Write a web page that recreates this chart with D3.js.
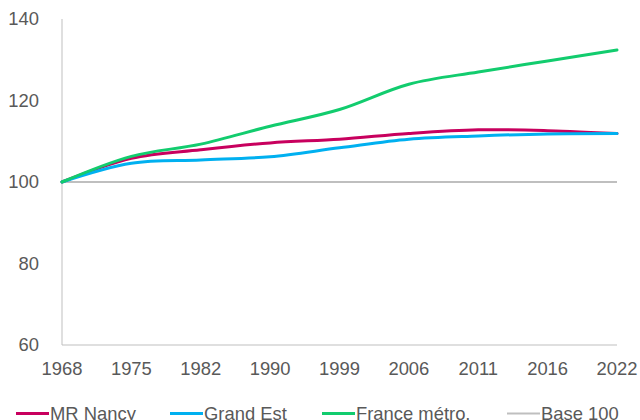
<!DOCTYPE html>
<html>
<head>
<meta charset="utf-8">
<script src="https://cdn.jsdelivr.net/npm/d3@7"></script>
<style>
  body { margin: 0; background: #fff; }
  svg { display: block; font-family: "Liberation Sans", Arial, sans-serif; }
</style>
</head>
<body>
<div id="chart"></div>
<script>
// years on the x axis (evenly spaced categories)
const years = ["1968", "1975", "1982", "1990", "1999", "2006", "2011", "2016", "2022"];
// index base 100 in 1968
const nancy = [100, 105.8, 107.9, 109.6, 110.5, 111.9, 112.8, 112.6, 111.9];
const grandEst = [100, 104.6, 105.4, 106.2, 108.4, 110.5, 111.3, 111.8, 111.9];
const france = [100, 106.3, 109.3, 113.7, 117.8, 124.0, 127.0, 129.7, 132.4];
const base = [100, 100, 100, 100, 100, 100, 100, 100, 100];
const yTicks = [60, 80, 100, 120, 140];

const series = [
  { name: "MR Nancy", values: nancy, color: "#C8005E" },
  { name: "Grand Est", values: grandEst, color: "#00B0F0" },
  { name: "France métro.", values: france, color: "#12CC6E" },
];

const width = 640, height = 420;
const margin = { top: 19, right: 23, bottom: 75, left: 62 };
const fontSize = 18.4;

const svg = d3.select("#chart").append("svg")
  .attr("width", width)
  .attr("height", height);

const x = d3.scalePoint()
  .domain(years)
  .range([margin.left, width - margin.right]);

const y = d3.scaleLinear()
  .domain([60, 140])
  .range([height - margin.bottom, margin.top]);

// y axis line
svg.append("line")
  .attr("x1", margin.left).attr("x2", margin.left)
  .attr("y1", y(140)).attr("y2", y(60))
  .attr("stroke", "#BFBFBF").attr("stroke-width", 1);

// x axis line
svg.append("line")
  .attr("x1", margin.left).attr("x2", width - margin.right)
  .attr("y1", y(60)).attr("y2", y(60))
  .attr("stroke", "#BFBFBF").attr("stroke-width", 1);

// y tick labels
svg.append("g")
  .selectAll("text")
  .data(yTicks)
  .join("text")
  .attr("x", 39)
  .attr("y", (d) => y(d))
  .attr("dy", "0.33em")
  .attr("text-anchor", "end")
  .attr("fill", "#595959")
  .attr("font-size", fontSize)
  .text((d) => d);

// x tick labels
svg.append("g")
  .selectAll("text")
  .data(years)
  .join("text")
  .attr("x", (d) => x(d))
  .attr("y", y(60) + 29.5)
  .attr("text-anchor", "middle")
  .attr("fill", "#595959")
  .attr("font-size", fontSize)
  .text((d) => d);

const line = d3.line()
  .x((d, i) => x(years[i]))
  .y((d) => y(d))
  .curve(d3.curveCatmullRom.alpha(0.5));

// base 100 line
svg.append("path")
  .datum(base)
  .attr("d", line)
  .attr("fill", "none")
  .attr("stroke", "#BFBFBF")
  .attr("stroke-width", 2);

// series
svg.append("g")
  .selectAll("path")
  .data(series)
  .join("path")
  .attr("d", (d) => line(d.values))
  .attr("fill", "none")
  .attr("stroke", (d) => d.color)
  .attr("stroke-width", 3)
  .attr("stroke-linejoin", "round")
  .attr("stroke-linecap", "round");

// legend
const legendItems = [
  { name: "MR Nancy", color: "#C8005E", w: 3, x: 16 },
  { name: "Grand Est", color: "#00B0F0", w: 3, x: 170 },
  { name: "France métro.", color: "#12CC6E", w: 3, x: 322 },
  { name: "Base 100", color: "#BFBFBF", w: 2, x: 507 },
];
const legend = svg.append("g")
  .selectAll("g")
  .data(legendItems)
  .join("g")
  .attr("transform", (d) => `translate(${d.x},413.5)`);
legend.append("line")
  .attr("x1", 0).attr("x2", 33)
  .attr("y1", 0).attr("y2", 0)
  .attr("stroke", (d) => d.color)
  .attr("stroke-width", (d) => d.w);
legend.append("text")
  .attr("x", 34)
  .attr("y", 6.2)
  .attr("fill", "#595959")
  .attr("font-size", fontSize)
  .text((d) => d.name);
</script>
</body>
</html>
